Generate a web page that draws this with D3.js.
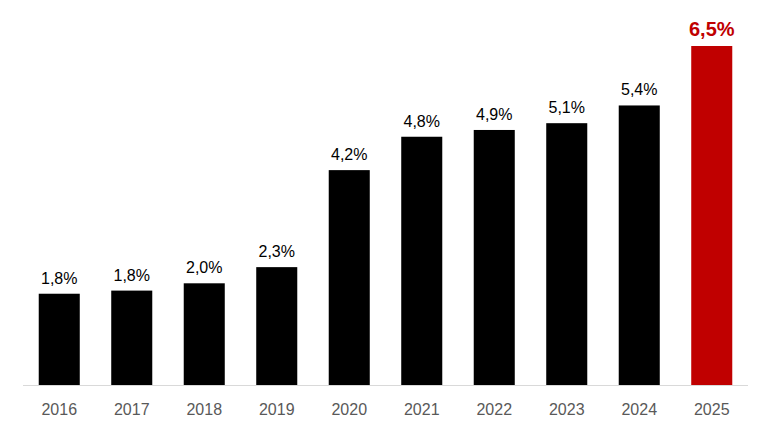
<!DOCTYPE html>
<html><head><meta charset="utf-8">
<script src="https://cdn.jsdelivr.net/npm/d3@7"></script>
<style>body{margin:0;background:#fff}svg{font-family:Arial,"Liberation Sans",sans-serif}</style>
</head><body><svg id="chart" width="771" height="433"></svg>
<script>
const years = ["2016","2017","2018","2019","2020","2021","2022","2023","2024","2025"];
const values = [1.75, 1.81, 1.95, 2.26, 4.12, 4.76, 4.89, 5.02, 5.36, 6.5];
const labels = ["1,8%","1,8%","2,0%","2,3%","4,2%","4,8%","4,9%","5,1%","5,4%","6,5%"];

const svg = d3.select("#chart");
const x = d3.scaleBand().domain(years).range([23, 748]).paddingInner(0.434).paddingOuter(0.217);
const y = d3.scaleLinear().domain([0, 6.5]).range([385, 46]);
const isLast = (i) => i === years.length - 1;

svg.selectAll("rect").data(values).join("rect")
  .attr("x", (d, i) => x(years[i])).attr("width", x.bandwidth())
  .attr("y", d => y(d)).attr("height", d => y(0) - y(d))
  .attr("fill", (d, i) => isLast(i) ? "#c00000" : "#000");

svg.append("line").attr("x1", 23).attr("x2", 748).attr("y1", y(0) + 0.5).attr("y2", y(0) + 0.5)
  .attr("stroke", "#d9d9d9");

svg.selectAll(".val").data(values).join("text").attr("class", "val")
  .attr("x", (d, i) => x(years[i]) + x.bandwidth() / 2)
  .attr("y", d => y(d) - 10)
  .attr("text-anchor", "middle")
  .attr("font-size", (d, i) => isLast(i) ? 20 : 16)
  .attr("font-weight", (d, i) => isLast(i) ? "bold" : "normal")
  .attr("fill", (d, i) => isLast(i) ? "#c00000" : "#000")
  .text((d, i) => labels[i]);

svg.selectAll(".yr").data(years).join("text").attr("class", "yr")
  .attr("x", d => x(d) + x.bandwidth() / 2).attr("y", 415)
  .attr("text-anchor", "middle").attr("font-size", 16).attr("fill", "#595959")
  .text(d => d);
</script></body></html>
